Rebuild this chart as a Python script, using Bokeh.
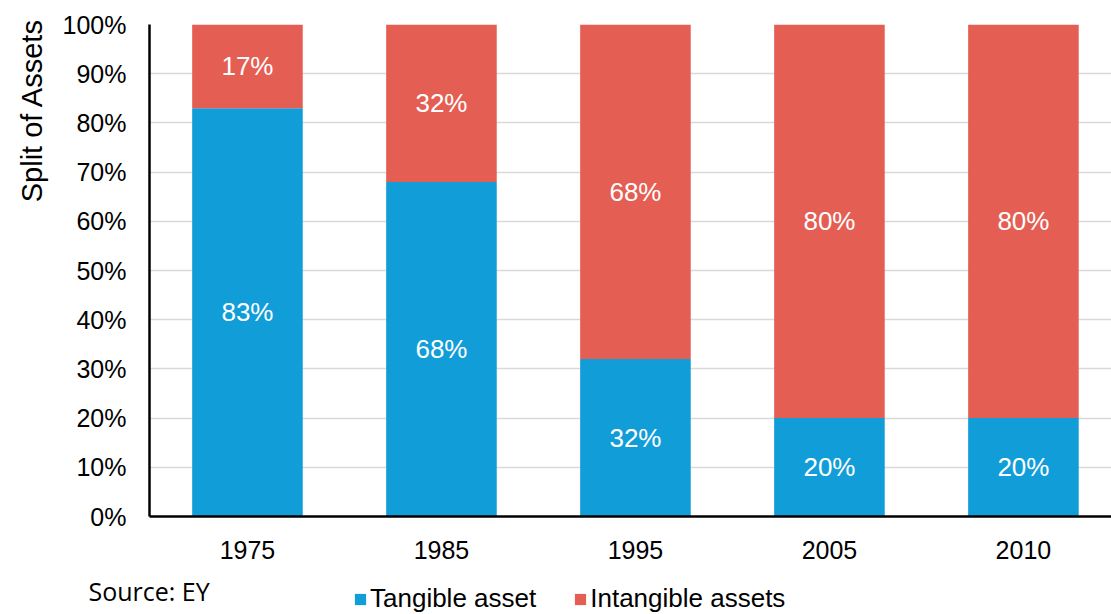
from bokeh.plotting import figure
from bokeh.layouts import column, row
from bokeh.models import ColumnDataSource, FixedTicker, Legend, LegendItem, Label, Range1d, Title
from bokeh.core.properties import value
from bokeh.embed import file_html
from bokeh.resources import INLINE

years = ["1975", "1985", "1995", "2005", "2010"]
tangible = [83, 68, 32, 20, 20]
intangible = [17, 32, 68, 80, 80]
series_names = ["Tangible asset", "Intangible assets"]
y_ticks = list(range(0, 101, 10))

BLUE = "#119DD8"
RED = "#E55E53"
FONT = "Liberation Sans"

xs = list(range(len(years)))
src = ColumnDataSource(dict(
    x=xs, tangible=tangible, intangible=intangible,
    y_t=[t / 2 for t in tangible],
    y_i=[t + i / 2 for t, i in zip(tangible, intangible)],
    lab_t=[f"{t}%" for t in tangible],
    lab_i=[f"{i}%" for i in intangible],
))

TOP_H = 570

p = figure(width=1111, height=TOP_H, output_backend="svg", toolbar_location=None,
           x_range=Range1d(-0.505, 4.454), y_range=Range1d(0, 100),
           min_border_left=149, min_border_right=0, min_border_top=24,
           min_border_bottom=TOP_H - 516)
p.outline_line_color = None

r = p.vbar_stack(["tangible", "intangible"], x="x", width=0.57, color=[BLUE, RED],
                 line_color=None, source=src)

for yc, lc in (("y_t", "lab_t"), ("y_i", "lab_i")):
    p.text(x="x", y=yc, text=lc, source=src, text_color="white",
           text_align="center", text_baseline="middle", text_font=value(FONT),
           text_font_size="26px")

p.xgrid.grid_line_color = None
p.ygrid.grid_line_color = "#D9D9D9"
p.ygrid.grid_line_width = 1.5
p.ygrid.ticker = FixedTicker(ticks=y_ticks)

p.yaxis.ticker = FixedTicker(ticks=y_ticks)
p.yaxis.major_label_overrides = {v: f"{v}%" for v in y_ticks}
p.xaxis.ticker = FixedTicker(ticks=xs)
p.xaxis.major_label_overrides = {i: y for i, y in enumerate(years)}

for ax in (p.xaxis, p.yaxis):
    ax.axis_line_color = "black"
    ax.axis_line_width = 2.5
    ax.major_tick_line_color = None
    ax.minor_tick_line_color = None
    ax.major_label_text_font = FONT
    ax.major_label_text_font_size = "25px"
    ax.major_label_text_color = "black"
p.yaxis.major_label_standoff = 17
p.xaxis.major_label_standoff = 18

# y-axis title, placed toward the top like the original
p.add_layout(Title(text="Split of Assets", align="right", offset=-6, standoff=24,
                   text_font=FONT, text_font_size="29px", text_font_style="normal",
                   text_color="black"), "left")

# bottom strip: source note and legend
BH = 614 - TOP_H
p2 = figure(width=1111, height=BH, output_backend="svg", toolbar_location=None,
            x_range=Range1d(0, 1111), y_range=Range1d(0, BH), min_border=0)
p2.title = None
p2.axis.visible = False
p2.grid.visible = False
p2.outline_line_color = None
lr = [p2.vbar(x=[-100], top=[-100], width=1, color=c, line_color=None) for c in (BLUE, RED)]
legend = Legend(items=[LegendItem(label=n, renderers=[rr]) for n, rr in zip(series_names, lr)],
                orientation="horizontal", location=(353, 0),
                label_text_font=FONT, label_text_font_size="26px", label_text_color="black",
                label_text_baseline="middle",
                glyph_width=14, glyph_height=14, label_standoff=3, spacing=37, label_height=26,
                padding=0, margin=0, border_line_color=None, background_fill_alpha=0)
p2.add_layout(legend, "center")
p2.add_layout(Label(x=88, y=BH - 20, text="Source: EY", text_baseline="middle",
                    text_font="Open Sans", text_font_size="25px", text_color="black"))

layout = column(row(p, spacing=0), p2, spacing=0)
open("out.html", "w").write(file_html(layout, INLINE))
